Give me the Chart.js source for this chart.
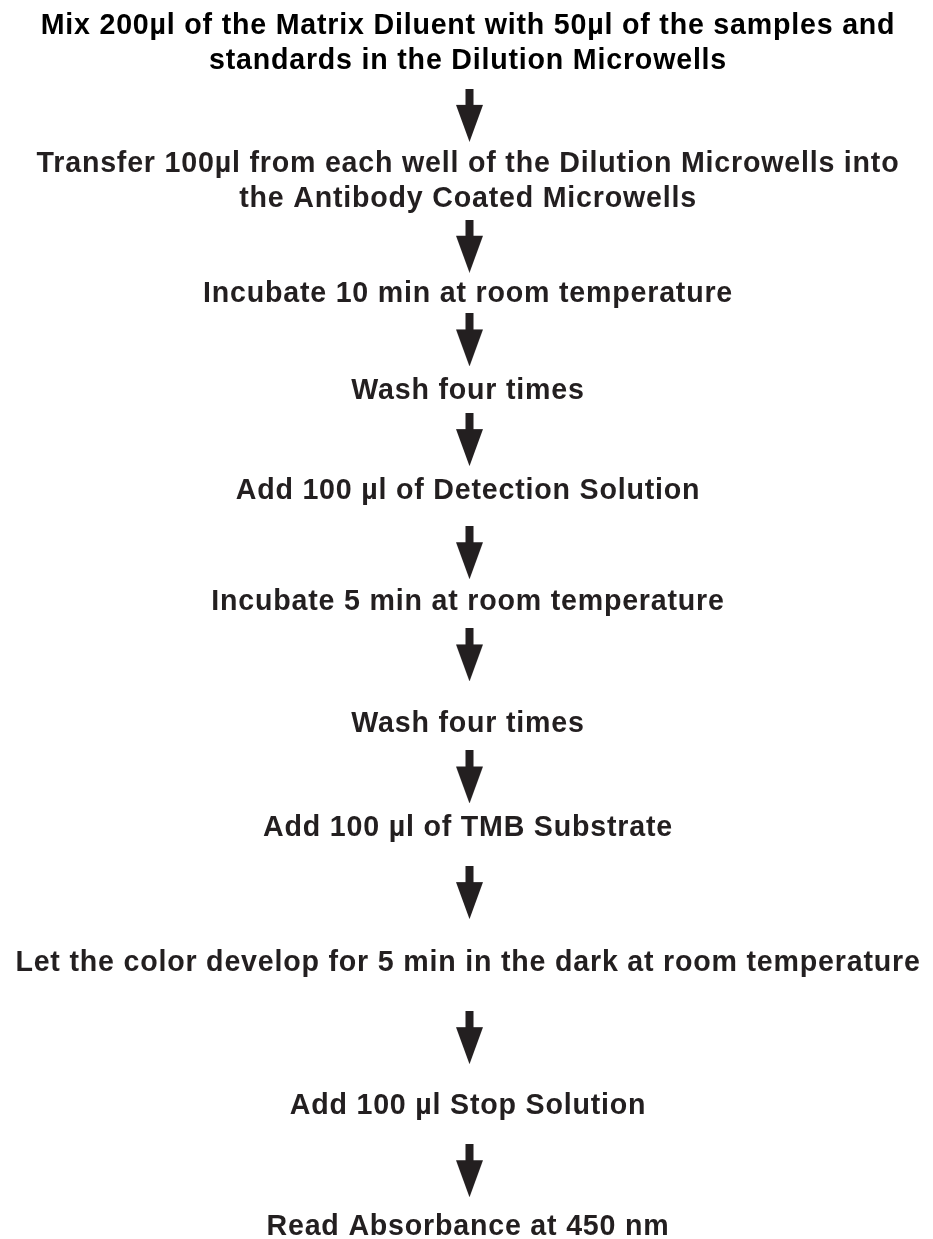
<!DOCTYPE html>
<html>
<head>
<meta charset="utf-8">
<script src="https://cdn.jsdelivr.net/npm/chart.js@4.4.0/dist/chart.umd.min.js"></script>
<style>
  html, body { margin: 0; padding: 0; background: #ffffff; }
  #wrap { width: 933px; height: 1239px; position: relative; }
</style>
</head>
<body>
<div id="wrap"><canvas id="c"></canvas></div>
<script>
// ---- data ----
const stepLabels = [
  ["Mix 200µl of the Matrix Diluent with 50µl of the samples and", "standards in the Dilution Microwells"],
  ["Transfer 100µl from each well of the Dilution Microwells into", "the Antibody Coated Microwells"],
  ["Incubate 10 min at room temperature"],
  ["Wash four times"],
  ["Add 100 µl of Detection Solution"],
  ["Incubate 5 min at room temperature"],
  ["Wash four times"],
  ["Add 100 µl of TMB Substrate"],
  ["Let the color develop for 5 min in the dark at room temperature"],
  ["Add 100 µl Stop Solution"],
  ["Read Absorbance at 450 nm"]
];
// vertical position of each step (first text line baseline), top-down units
const stepY = [31.7, 171, 301, 398, 499, 610, 732, 837, 972.3, 1116, 1237];
// vertical position (centre) of each arrow between steps
const arrowY = [113.7, 245, 339, 439, 552.5, 655, 777.5, 893.5, 1039, 1172.5];

// ---- styling ----
const INK = '#231f20';
const FONT = 'bold 28.6px "Liberation Sans", Arial, Helvetica, sans-serif';
const LINE_H = 35;

// arrow glyph used as point style
function makeArrow() {
  const cv = document.createElement('canvas');
  const w = 33, h = 53;
  cv.width = w; cv.height = h;
  const g = cv.getContext('2d');
  const cx = 19.5; // slight right offset like the reference
  g.fillStyle = INK;
  g.beginPath();
  g.moveTo(cx - 4, 0);
  g.lineTo(cx + 4, 0);
  g.lineTo(cx + 4, 16);
  g.lineTo(cx + 13.5, 16);
  g.lineTo(cx, 53);
  g.lineTo(cx - 13.5, 16);
  g.lineTo(cx - 4, 16);
  g.closePath();
  g.fill();
  return cv;
}
const arrowGlyph = makeArrow();

const labelPlugin = {
  id: 'stepLabels',
  afterDatasetsDraw(chart) {
    const meta = chart.getDatasetMeta(0);
    const ctx = chart.ctx;
    ctx.save();
    ctx.font = FONT;
    try { ctx.letterSpacing = '0.8px'; } catch (e) {}
    ctx.textAlign = 'center';
    ctx.textBaseline = 'alphabetic';
    meta.data.forEach((pt, i) => {
      ctx.fillStyle = i === 0 ? '#000000' : INK;
      stepLabels[i].forEach((line, j) => {
        ctx.fillText(line, pt.x + 1.5, pt.y + j * LINE_H);
      });
    });
    ctx.restore();
  }
};

new Chart(document.getElementById('c'), {
  type: 'scatter',
  data: {
    datasets: [
      {
        label: 'steps',
        data: stepY.map(y => ({ x: 0, y })),
        pointRadius: 0,
        pointHoverRadius: 0
      },
      {
        label: 'arrows',
        data: arrowY.map(y => ({ x: 0, y })),
        pointStyle: arrowGlyph,
        pointRadius: 1,
        pointHoverRadius: 1
      }
    ]
  },
  options: {
    responsive: true,
    maintainAspectRatio: false,
    animation: false,
    layout: { padding: 0 },
    events: [],
    scales: {
      x: { type: 'linear', min: -1, max: 1, display: false },
      y: { type: 'linear', min: 0, max: 1239, reverse: true, display: false }
    },
    plugins: {
      legend: { display: false },
      tooltip: { enabled: false }
    }
  },
  plugins: [labelPlugin]
});
</script>
</body>
</html>
